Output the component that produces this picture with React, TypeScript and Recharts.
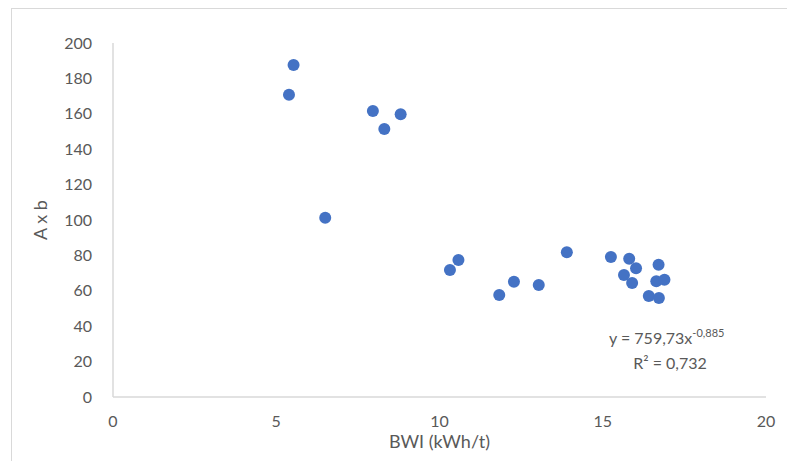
import React from 'react';
import { ScatterChart, Scatter, XAxis, YAxis, Label, Customized } from 'recharts';

const bwi = [5.53, 5.39, 7.96, 8.81, 8.31, 6.5, 10.58, 10.32, 11.83, 12.28, 13.04, 13.9, 15.25, 15.81, 16.02, 15.65, 15.9, 16.71, 16.64, 16.89, 16.41, 16.72];
const axb = [187.6, 170.8, 161.6, 159.7, 151.4, 101.3, 77.4, 71.8, 57.6, 65.1, 63.3, 81.8, 79.1, 78.1, 72.7, 68.9, 64.4, 74.7, 65.4, 66.3, 57.1, 55.9];
const xTicks = [0, 5, 10, 15, 20];
const yTicks = [0, 20, 40, 60, 80, 100, 120, 140, 160, 180, 200];

const data = bwi.map((x, i) => ({ x, y: axb[i] }));

const FONT = 'Lato, "Open Sans", sans-serif';
const GRAY = '#595959';

const Equation = () => (
  <g fontFamily={FONT} fill={GRAY}>
    <text x={609} y={344} fontSize={16}>
      y = 759,73x
      <tspan dy={-7} fontSize={11}>-0,885</tspan>
    </text>
    <text x={670} y={369} fontSize={16} textAnchor="middle">
      R² = 0,732
    </text>
  </g>
);

export default function App() {
  return (
    <div style={{ position: 'absolute', left: 0, top: 0, width: 787, height: 461, background: '#fff', overflow: 'hidden' }}>
      <div style={{ position: 'absolute', left: 11, top: 8, width: 800, height: 480, border: '1px solid #d9d9d9', boxSizing: 'border-box' }} />
      <ScatterChart width={787} height={461} margin={{ top: 43, right: 21, bottom: 34, left: 53 }}>
        <XAxis
          type="number"
          dataKey="x"
          domain={[0, 20]}
          ticks={xTicks}
          height={30}
          axisLine={{ stroke: '#d9d9d9', strokeWidth: 1.5 }}
          tickLine={false}
          tickSize={0}
          tickMargin={19}
          tick={{ fill: GRAY, fontSize: 16, fontFamily: FONT }}
        >
          <Label value="BWI (kWh/t)" position="bottom" offset={8} fill={GRAY} fontSize={18} fontFamily={FONT} />
        </XAxis>
        <YAxis
          type="number"
          dataKey="y"
          domain={[0, 200]}
          ticks={yTicks}
          width={60}
          axisLine={{ stroke: '#d9d9d9', strokeWidth: 1.5 }}
          tickLine={false}
          tickSize={0}
          tickMargin={21}
          tick={{ fill: GRAY, fontSize: 16, fontFamily: FONT }}
        >
          <Label value="A x b" angle={-90} position="insideLeft" offset={-12} fill={GRAY} fontSize={18} fontFamily={FONT} style={{ textAnchor: 'middle' }} />
        </YAxis>
        <Scatter data={data} fill="#4472C4" isAnimationActive={false} shape={(p: any) => <circle cx={p.cx} cy={p.cy} r={6} fill="#4472C4" />} />
        <Customized component={Equation} />
      </ScatterChart>
    </div>
  );
}
